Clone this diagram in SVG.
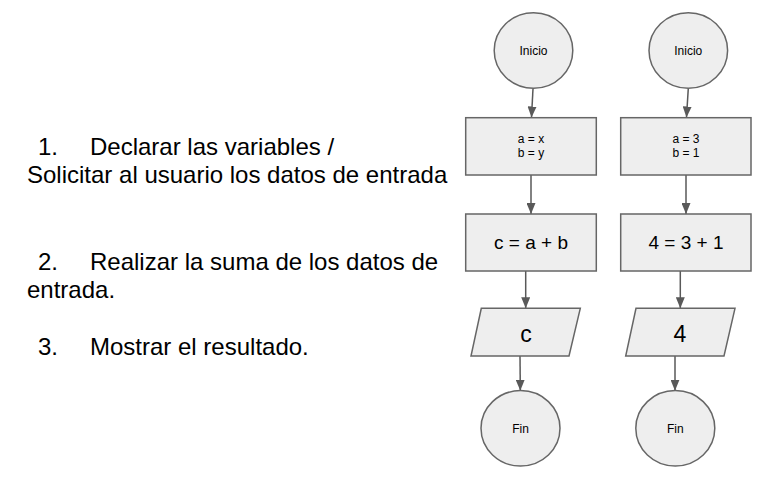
<svg xmlns="http://www.w3.org/2000/svg" width="775" height="478" viewBox="0 0 775 478">
<style>
.shape{fill:#eeeeee;stroke:#666666;stroke-width:1.5}
.conn{stroke:#595959;stroke-width:1.5;fill:none;marker-end:url(#arr)}
.t{font-family:"Liberation Sans",Arial,sans-serif;fill:#000;text-anchor:middle}
.s{font-size:12px}
.m{font-size:19px}
.l{font-size:23px}
.side{font-family:"Liberation Sans",Arial,sans-serif;font-size:24px;fill:#000}
</style>
<defs>
<marker id="arr" markerUnits="userSpaceOnUse" markerWidth="11" markerHeight="9" refX="11" refY="4.5" orient="auto">
<path d="M0,0 L11,4.5 L0,9 z" fill="#595959"/>
</marker>
</defs>
<rect width="775" height="478" fill="#ffffff"/>
<g id="steps">
<text class="side" x="38" y="155">1.</text>
<text class="side" x="90" y="155">Declarar las variables /</text>
<text class="side" x="27" y="183">Solicitar al usuario los datos de entrada</text>
<text class="side" x="38" y="270">2.</text>
<text class="side" x="90" y="270">Realizar la suma de los datos de</text>
<text class="side" x="27" y="298">entrada.</text>
<text class="side" x="38" y="355">3.</text>
<text class="side" x="90" y="355">Mostrar el resultado.</text>
</g>
<g id="connectors">
<line class="conn" x1="533" y1="88.5" x2="531.5" y2="117.5"/>
<line class="conn" x1="688.3" y1="88.5" x2="686.5" y2="117.5"/>
<line class="conn" x1="531" y1="175" x2="531" y2="214"/>
<line class="conn" x1="686" y1="175" x2="686" y2="214"/>
<line class="conn" x1="525.7" y1="271" x2="525.7" y2="308.3"/>
<line class="conn" x1="680.3" y1="271" x2="680.3" y2="308.3"/>
<line class="conn" x1="520" y1="356" x2="520.3" y2="390.7"/>
<line class="conn" x1="675" y1="356" x2="675" y2="390.7"/>
</g>
<g id="inicio1">
<ellipse class="shape" cx="533.5" cy="50.5" rx="39.3" ry="37.8"/>
<text class="t s" x="533.5" y="55">Inicio</text>
</g>
<g id="inicio2">
<ellipse class="shape" cx="688.3" cy="50.5" rx="39.3" ry="37.8"/>
<text class="t s" x="688.3" y="55">Inicio</text>
</g>
<g id="asig1">
<rect class="shape" x="465.7" y="117.7" width="130.6" height="57.3"/>
<text class="t s" x="531" y="143.3">a = x</text>
<text class="t s" x="531" y="157.3">b = y</text>
</g>
<g id="asig2">
<rect class="shape" x="620.7" y="117.7" width="130.3" height="57.3"/>
<text class="t s" x="686" y="143.3">a = 3</text>
<text class="t s" x="686" y="157.3">b = 1</text>
</g>
<g id="suma1">
<rect class="shape" x="465.7" y="214" width="130.6" height="57"/>
<text class="t m" x="531" y="249">c = a + b</text>
</g>
<g id="suma2">
<rect class="shape" x="620.7" y="214" width="130.3" height="57"/>
<text class="t m" x="686" y="249">4 = 3 + 1</text>
</g>
<g id="salida1">
<polygon class="shape" points="481.3,308.3 580.3,308.3 569,356 471,356"/>
<text class="t l" x="526" y="341.7">c</text>
</g>
<g id="salida2">
<polygon class="shape" points="636,308.3 735,308.3 724,356 625.7,356"/>
<text class="t l" x="680" y="341.7">4</text>
</g>
<g id="fin1">
<ellipse class="shape" cx="520.5" cy="428.3" rx="39.5" ry="37.7"/>
<text class="t s" x="520.5" y="433">Fin</text>
</g>
<g id="fin2">
<ellipse class="shape" cx="675.3" cy="428.3" rx="39.5" ry="37.7"/>
<text class="t s" x="675.3" y="433">Fin</text>
</g>
</svg>
